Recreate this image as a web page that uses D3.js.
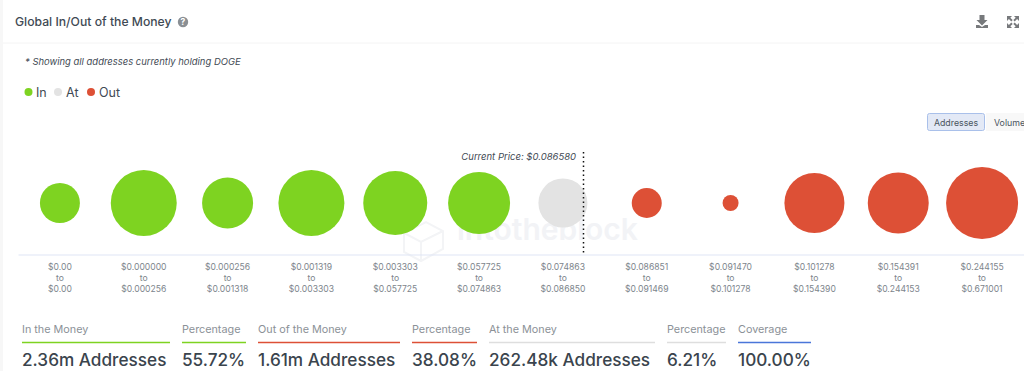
<!DOCTYPE html>
<html><head><meta charset="utf-8">
<script src="https://cdn.jsdelivr.net/npm/d3@7"></script>
<style>
html,body{margin:0;padding:0;background:#fff;overflow:hidden}
svg{display:block;font-family:Inter,"Open Sans",sans-serif}
</style></head><body><svg id="c" width="1024" height="371"></svg>
<script>
const rangeFrom=["$0.00","$0.000000","$0.000256","$0.001319","$0.003303","$0.057725","$0.074863","$0.086851","$0.091470","$0.101278","$0.154391","$0.244155"];
const rangeTo=["$0.00","$0.000256","$0.001318","$0.003303","$0.057725","$0.074863","$0.086850","$0.091469","$0.101278","$0.154390","$0.244153","$0.671001"];
const addresses=[181,493,295,493,464,435,272,102,29,408,421,587];
const status=["In","In","In","In","In","In","At","Out","Out","Out","Out","Out"];
const legendItems=["In","At","Out"];
const statLabels=["In the Money","Percentage","Out of the Money","Percentage","At the Money","Percentage","Coverage"];
const statValues=["2.36m Addresses","55.72%","1.61m Addresses","38.08%","262.48k Addresses","6.21%","100.00%"];
const statKinds=["In","In","Out","Out","At","At","Cov"];
const statEdges=[[22,170],[182,246],[258,400],[412,477],[489,655],[667,726],[738,811]];
const currentPrice="Current Price: $0.086580";

const colors={In:"#7ed321",At:"#e3e3e3",Out:"#dd5036",Cov:"#4a76d9"};
const svg=d3.select("#c");
const ids=d3.range(addresses.length);
const x=d3.scaleBand().domain(ids).range([18,1024]);
const r=d3.scaleSqrt().domain([0,d3.max(addresses)]).range([0,36]);
const cy=203, axisY=254.5;

svg.append("rect").attr("x",0).attr("y",0).attr("width",3).attr("height",371).attr("fill","#f7f7f7");
svg.append("line").attr("x1",3).attr("x2",1024).attr("y1",43).attr("y2",43).attr("stroke","#f4f4f4");
svg.append("text").attr("x",15).attr("y",26).attr("font-size",12.2).attr("font-weight",500).attr("fill","#3f4a54").text("Global In/Out of the Money");
svg.append("circle").attr("cx",183).attr("cy",22).attr("r",5.2).attr("fill","#8a8f94");
svg.append("text").attr("x",183).attr("y",25.3).attr("text-anchor","middle").attr("font-size",8.5).attr("font-weight",700).attr("fill","#fff").text("?");
svg.append("path").attr("d","M979.5 15h5v5h3l-5.5 5.5-5.5-5.5h3zM976 25h3l3 2 3-2h3v3h-12z").attr("fill","#77797c");
svg.append("path").attr("d","M1007 16h5l-1.7 1.7 2.4 2.4-1.4 1.4-2.4-2.4-1.9 1.9zM1019 16v5l-1.9-1.9-2.4 2.4-1.4-1.4 2.4-2.4-1.7-1.7zM1007 28v-5l1.9 1.9 2.4-2.4 1.4 1.4-2.4 2.4 1.7 1.7zM1019 28h-5l1.7-1.7-2.4-2.4 1.4-1.4 2.4 2.4 1.9-1.9z").attr("fill","#77797c");

svg.append("text").attr("x",25).attr("y",65).attr("font-size",9.45).attr("font-style","italic").attr("fill","#3f4a54").text("* Showing all addresses currently holding DOGE");

const legendX=[28.5,58,91], legendTextX=[36,66,99];
legendItems.forEach((k,i)=>{
  svg.append("circle").attr("cx",legendX[i]).attr("cy",92).attr("r",4).attr("fill",colors[k]);
  svg.append("text").attr("x",legendTextX[i]).attr("y",96.5).attr("font-size",12.5).attr("fill","#3f4a54").text(k);
});

svg.append("rect").attr("x",927.5).attr("y",113.5).attr("width",57).attr("height",17).attr("rx",2).attr("fill","#e3e9f6").attr("stroke","#a9c0ea");
svg.append("text").attr("x",956).attr("y",125.5).attr("text-anchor","middle").attr("font-size",8.8).attr("fill","#4a5560").text("Addresses");
svg.append("rect").attr("x",986).attr("y",113).attr("width",38).attr("height",18).attr("fill","#f8f8f8");
svg.append("text").attr("x",994).attr("y",125.5).attr("font-size",8.8).attr("fill","#4a5560").text("Volume");

svg.append("path").attr("d","M404 233l22-11 17 9v18l-22 12-17-9zM404 233l17 9 22-11M421 242v19").attr("fill","none").attr("stroke","#f3f4f6").attr("stroke-width",2);
svg.append("text").attr("x",457).attr("y",240).attr("font-size",30).attr("font-weight",600).attr("fill","#f2f3f6").text("intotheblock");

svg.append("g").selectAll("circle").data(ids).join("circle")
  .attr("cx",i=>x(i)+x.bandwidth()/2).attr("cy",cy).attr("r",i=>r(addresses[i])).attr("fill",i=>colors[status[i]]);

svg.append("line").attr("x1",583.5).attr("x2",583.5).attr("y1",152).attr("y2",254).attr("stroke","#111").attr("stroke-width",1.5).attr("stroke-dasharray","1.5 3");
svg.append("text").attr("x",576).attr("y",160).attr("text-anchor","end").attr("font-size",9.5).attr("font-style","italic").attr("fill","#3f4a54").text(currentPrice);

const ax=svg.append("g").attr("transform",`translate(0,${axisY})`).call(d3.axisBottom(x).tickSize(0).tickPadding(0).tickFormat(""));
ax.select(".domain").attr("stroke","#dfe5f5");
ax.selectAll(".tick").each(function(i){
  const t=d3.select(this).select("text").attr("y",0).attr("dy",0).attr("font-family","Inter,sans-serif").attr("font-size",8.6).attr("fill","#7d858c");
  [rangeFrom[i],"to",rangeTo[i]].forEach((s,k)=>t.append("tspan").attr("x",0).attr("y",15+k*11.2).text(s));
});

statLabels.forEach((s,i)=>{
  const [a,b]=statEdges[i];
  svg.append("text").attr("x",a).attr("y",333).attr("font-size",10.8).attr("fill","#8b9197").text(s);
  svg.append("line").attr("x1",a).attr("x2",b).attr("y1",342.5).attr("y2",342.5).attr("stroke",statKinds[i]==="At"?"#dedede":colors[statKinds[i]]).attr("stroke-width",1.3);
  svg.append("text").attr("x",a).attr("y",366).attr("font-size",17.2).attr("font-weight",500).attr("fill","#3a444d").text(statValues[i]);
});
</script></body></html>
